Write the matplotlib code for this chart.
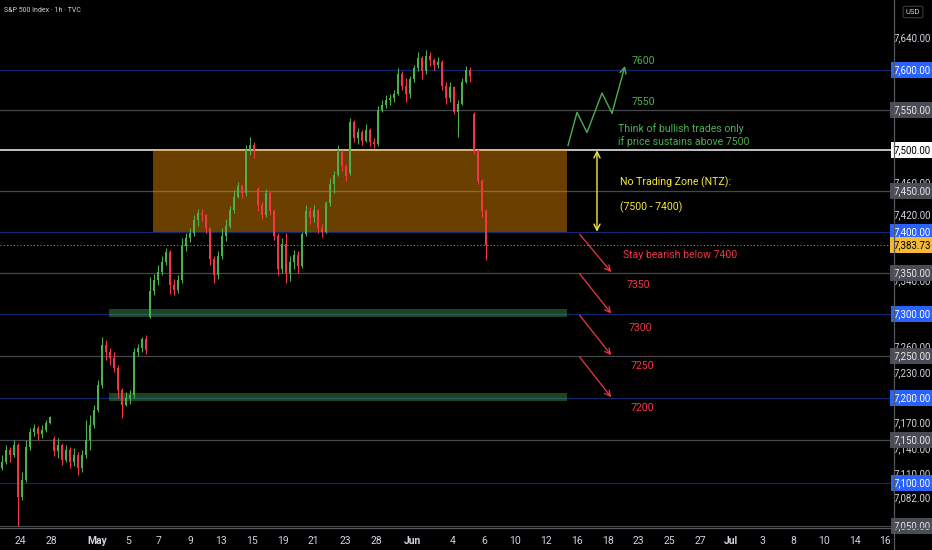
import matplotlib
matplotlib.use('Agg')
import matplotlib.pyplot as plt
from matplotlib import font_manager
from matplotlib.transforms import blended_transform_factory
from matplotlib.patches import Rectangle
from matplotlib.lines import Line2D
from matplotlib.ticker import NullLocator, FixedLocator

names = {f.name for f in font_manager.fontManager.ttflist}
NARROW = 'Liberation Sans Narrow' if 'Liberation Sans Narrow' in names else 'Roboto'
plt.rcParams['font.family'] = [NARROW, 'DejaVu Sans']

# ---------------- data (1h candles, S&P 500 Index) ----------------
opens = [7118, 7125, 7139, 7133, 7145, 7084, 7104, 7142, 7160, 7165,
         7158, 7162, 7171, 7152, 7137, 7145, 7127, 7139, 7125, 7133,
         7118, 7133, 7151, 7168, 7186, 7215, 7263, 7255, 7248, 7236,
         7210, 7192, 7200, 7204, 7255, 7260, 7270, 7297, 7328, 7341,
         7351, 7363, 7375, 7335, 7329, 7341, 7383, 7392, 7399, 7414,
         7423, 7420, 7404, 7367, 7347, 7371, 7395, 7407, 7426, 7442,
         7456, 7447, 7500, 7506, 7452, 7433, 7420, 7448, 7425, 7395,
         7355, 7385, 7350, 7363, 7372, 7358, 7397, 7425, 7418, 7427,
         7405, 7400, 7435, 7458, 7470, 7498, 7480, 7472, 7535, 7515,
         7522, 7512, 7525, 7510, 7508, 7550, 7556, 7562, 7565, 7570,
         7595, 7580, 7570, 7588, 7602, 7615, 7598, 7618, 7612, 7606,
         7610, 7580, 7565, 7578, 7548, 7558, 7585, 7600, 7545, 7500,
         7462, 7425]
highs = [7133, 7145, 7142, 7151, 7147, 7113, 7151, 7165, 7169, 7167,
         7168, 7174, 7179, 7155, 7153, 7147, 7145, 7142, 7141, 7136,
         7139, 7174, 7180, 7192, 7221, 7273, 7269, 7260, 7255, 7239,
         7212, 7207, 7210, 7260, 7264, 7273, 7275, 7345, 7349, 7359,
         7371, 7380, 7378, 7343, 7347, 7392, 7398, 7404, 7420, 7428,
         7428, 7422, 7406, 7371, 7377, 7404, 7416, 7432, 7451, 7461,
         7458, 7506, 7516, 7510, 7455, 7436, 7452, 7450, 7428, 7398,
         7392, 7398, 7370, 7378, 7376, 7400, 7433, 7430, 7433, 7428,
         7410, 7438, 7466, 7475, 7506, 7500, 7483, 7540, 7538, 7528,
         7525, 7532, 7528, 7515, 7555, 7563, 7568, 7570, 7575, 7602,
         7598, 7590, 7592, 7606, 7622, 7618, 7625, 7622, 7615, 7616,
         7612, 7585, 7585, 7580, 7562, 7590, 7605, 7604, 7548, 7502,
         7465, 7428]
lows = [7115, 7122, 7125, 7130, 7050, 7080, 7101, 7139, 7155, 7151,
        7153, 7160, 7169, 7132, 7129, 7121, 7125, 7118, 7120, 7109,
        7113, 7129, 7139, 7165, 7183, 7212, 7245, 7239, 7231, 7200,
        7176, 7190, 7193, 7200, 7250, 7255, 7252, 7296, 7323, 7335,
        7347, 7359, 7325, 7323, 7326, 7338, 7377, 7387, 7395, 7407,
        7413, 7399, 7359, 7338, 7343, 7367, 7389, 7404, 7423, 7441,
        7441, 7444, 7494, 7491, 7425, 7415, 7418, 7420, 7390, 7348,
        7350, 7338, 7340, 7355, 7350, 7356, 7395, 7410, 7412, 7398,
        7393, 7398, 7432, 7448, 7468, 7475, 7462, 7470, 7510, 7508,
        7506, 7510, 7505, 7503, 7505, 7548, 7552, 7556, 7560, 7568,
        7575, 7560, 7565, 7585, 7598, 7588, 7595, 7605, 7600, 7602,
        7575, 7558, 7560, 7545, 7516, 7556, 7583, 7585, 7495, 7458,
        7418, 7366]
closes = [7125, 7139, 7133, 7145, 7084, 7104, 7142, 7160, 7165, 7158,
          7162, 7171, 7177, 7137, 7145, 7127, 7139, 7125, 7133, 7118,
          7133, 7151, 7168, 7186, 7215, 7263, 7255, 7248, 7236, 7210,
          7192, 7200, 7204, 7255, 7260, 7270, 7257, 7328, 7341, 7351,
          7363, 7375, 7335, 7329, 7341, 7383, 7392, 7399, 7414, 7423,
          7420, 7404, 7367, 7347, 7371, 7395, 7407, 7426, 7442, 7456,
          7447, 7500, 7506, 7500, 7433, 7420, 7448, 7425, 7395, 7355,
          7385, 7350, 7363, 7372, 7358, 7397, 7425, 7418, 7427, 7405,
          7400, 7435, 7458, 7470, 7498, 7480, 7468, 7535, 7515, 7522,
          7512, 7525, 7510, 7508, 7550, 7556, 7562, 7565, 7570, 7595,
          7580, 7570, 7588, 7602, 7615, 7598, 7618, 7612, 7606, 7610,
          7580, 7565, 7578, 7548, 7558, 7585, 7600, 7592, 7500, 7462,
          7425, 7383.73]
last_price = 7383.73

date_labels = ['24', '28', 'May', '5', '7', '9', '13', '15', '19', '21', '23', '28',
               'Jun', '4', '6', '10', '12', '16', '18', '23', '25', '27', 'Jul',
               '3', '8', '10', '14', '16']
date_pos = [4.5, 12.25, 23.75, 31.5, 39.25, 47, 54.75, 62.5, 70.25, 77.75, 85.75,
            93.5, 102.5, 112.75, 120.5, 128.25, 136, 143.75, 151.5, 159, 166.75,
            174.5, 182.25, 190, 197.75, 205.5, 213.25, 220.75]

blue_levels = [7600, 7400, 7300, 7200, 7100]
grey_levels = [7550, 7450, 7350, 7250, 7150, 7050]
white_level = 7500
plain_ticks = [7640, 7460, 7420, 7340, 7260, 7230, 7170, 7140, 7110, 7082]

zone_top, zone_bottom = 7500, 7400
support_bands = [(7297, 7306), (7196, 7206)]
bull_path_x = [141.5, 143.75, 146.25, 150, 152.5, 155.75]
bull_path_y = [7506, 7547, 7522, 7571, 7546, 7605]
bear_targets = [(7397, 7351), (7349, 7301), (7299, 7251), (7249, 7201)]

# ---------------- figure ----------------
W, H = 932, 550
fig = plt.figure(figsize=(W / 100, H / 100), dpi=100, facecolor='black')
ax = fig.add_axes([0, 22 / H, 894 / W, 528 / H])
ax.set_facecolor('black')
ax.set_yscale('log')
ax.set_ylim(7047.5, 7688)
ax.set_xlim(-0.5, 223)
ax.yaxis.set_major_locator(NullLocator())
ax.yaxis.set_minor_locator(NullLocator())
for s in ['top', 'left', 'right', 'bottom']:
    ax.spines[s].set_visible(False)

# horizontal levels
for lv in blue_levels:
    ax.axhline(lv, color='#2962ff', lw=0.9, alpha=0.42, zorder=1)
for lv in grey_levels:
    ax.axhline(lv, color='#5d606b', lw=0.9, alpha=0.75, zorder=1)
ax.axhline(white_level, color='#d0d0d0', lw=1.3, zorder=1)
ax.axhline(last_price, color='#b08a3a', lw=0.8, ls=(0, (1, 2)), zorder=1)

# zones
ax.add_patch(Rectangle((37.75, zone_bottom), 141.25 - 37.75, zone_top - zone_bottom,
                       facecolor='#ff9800', alpha=0.42, edgecolor='none', zorder=2))
for lo, hi in support_bands:
    ax.add_patch(Rectangle((26.75, lo), 141.25 - 26.75, hi - lo,
                           facecolor='#4caf50', alpha=0.4, edgecolor='none', zorder=2))

# candles
up_c, dn_c = '#4caf50', '#f23645'
xs = list(range(len(closes)))
cols = [up_c if c >= o else dn_c for o, c in zip(opens, closes)]
ax.vlines(xs, lows, highs, colors=cols, lw=0.8, zorder=3)
bottoms = [min(o, c) for o, c in zip(opens, closes)]
heights = [max(abs(c - o), 0.8) for o, c in zip(opens, closes)]
ax.bar(xs, heights, bottom=bottoms, width=0.62, color=cols, edgecolor='none', zorder=4)

# bullish zig-zag
green_t = '#4caf50'
ax.plot(bull_path_x[:-1], bull_path_y[:-1], color=green_t, lw=1.0, zorder=5)
ax.annotate('', xy=(bull_path_x[-1], bull_path_y[-1]), xytext=(bull_path_x[-2], bull_path_y[-2]),
            arrowprops=dict(arrowstyle='->', color=green_t, lw=1.0, shrinkA=0, shrinkB=0,
                            mutation_scale=11), zorder=5)

# NTZ double arrow
yellow = '#f5eb3b'
ax.annotate('', xy=(148.75, zone_bottom), xytext=(148.75, zone_top),
            arrowprops=dict(arrowstyle='<->', color=yellow, lw=1.0, shrinkA=0, shrinkB=0,
                            mutation_scale=11), zorder=5)

# bearish arrows
red_t = '#f23645'
for y0, y1 in bear_targets:
    ax.annotate('', xy=(152.3, y1), xytext=(144.4, y0),
                arrowprops=dict(arrowstyle='->', color=red_t, lw=0.9, shrinkA=0, shrinkB=0,
                                mutation_scale=10), zorder=5)

fs = 7.6
ax.text(157.5, 7611, '7600', color=green_t, fontsize=fs, va='center', ha='left')
ax.text(157.5, 7560, '7550', color=green_t, fontsize=fs, va='center', ha='left')
ax.text(154.0, 7527, 'Think of bullish trades only', color=green_t, fontsize=fs, va='center')
ax.text(154.0, 7511, 'if price sustains above 7500', color=green_t, fontsize=fs, va='center')
ax.text(154.5, 7460, 'No Trading Zone (NTZ):', color=yellow, fontsize=fs, va='center')
ax.text(154.5, 7430, '(7500 - 7400)', color=yellow, fontsize=fs, va='center')
ax.text(155.25, 7372, 'Stay bearish below 7400', color=red_t, fontsize=fs, va='center')
ax.text(156.25, 7335, '7350', color=red_t, fontsize=fs, va='center')
ax.text(156.75, 7284, '7300', color=red_t, fontsize=fs, va='center')
ax.text(157.25, 7238, '7250', color=red_t, fontsize=fs, va='center')
ax.text(157.25, 7188, '7200', color=red_t, fontsize=fs, va='center')

# x axis
ax.xaxis.set_major_locator(FixedLocator(date_pos))
ax.set_xticklabels(date_labels)
ax.tick_params(axis='x', length=0, colors='#d1d4dc', labelsize=7.5, pad=6)
for lab in ax.get_xticklabels():
    if lab.get_text() in ('May', 'Jun', 'Jul'):
        lab.set_fontweight('bold')

# right price scale
tr = blended_transform_factory(ax.transAxes, ax.transData)
xl = 912 / 894
def fmt(v):
    return f'{v:,.2f}'
for v in plain_ticks:
    ax.text(xl, v, fmt(v), transform=tr, ha='center', va='center', fontsize=7,
            color='#d1d4dc', clip_on=False)
def boxed(v, fc, tc):
    ax.text(xl, v, fmt(v), transform=tr, ha='center', va='center', fontsize=7,
            color=tc, clip_on=False,
            bbox=dict(boxstyle='square,pad=0.3', fc=fc, ec='none'))
for v in grey_levels:
    boxed(v, '#4a4c55', '#e8e8e8')
for v in blue_levels:
    boxed(v, '#2962ff', 'white')
boxed(white_level, 'white', 'black')
boxed(last_price, '#f5b932', 'black')

# frame lines
fig.add_artist(Line2D([894 / W, 894 / W], [0, 1], transform=fig.transFigure,
                      color='#55575e', lw=0.9))
fig.add_artist(Line2D([0, 1], [22 / H, 22 / H], transform=fig.transFigure,
                      color='#55575e', lw=0.9))

# header
fig.text(4 / W, 1 - 11 / H, 'S&P 500 Index · 1h · TVC', color='#d1d4dc', fontsize=5,
         va='center', ha='left')
fig.text(913 / W, 1 - 12 / H, 'USD', color='#d1d4dc', fontsize=5.5, va='center', ha='center',
         bbox=dict(boxstyle='round,pad=0.35,rounding_size=0.2', fc='black', ec='#3a3a3a', lw=0.8))

fig.savefig('out.png', dpi=100, facecolor='black')
